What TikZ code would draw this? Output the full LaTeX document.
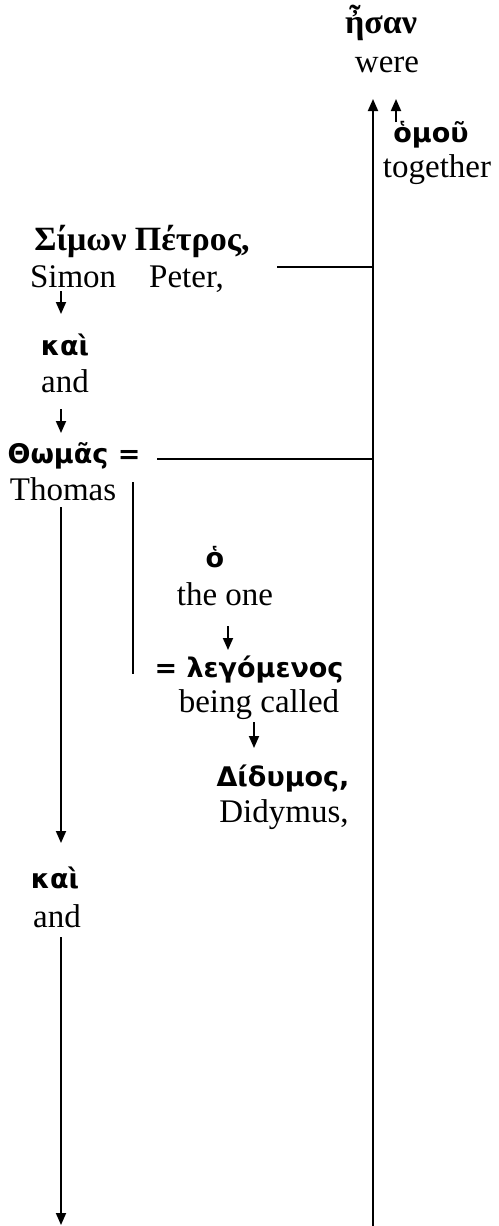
\documentclass[tikz,border=0pt]{standalone}
\usepackage{fontspec}
\setmainfont{Liberation Serif}
\newfontfamily\grs{DejaVu Sans}
\usetikzlibrary{arrows.meta}
\begin{document}
\begin{tikzpicture}[x=1pt,y=-1pt,
  en/.style={font=\fontsize{33}{40}\selectfont, inner sep=0pt, anchor=base},
  gk/.style={font=\grs\bfseries\fontsize{27}{30}\selectfont, inner sep=0pt, anchor=base},
  gs/.style={font=\bfseries\fontsize{34}{40}\selectfont, inner sep=0pt, anchor=base},
  ln/.style={line width=1.8pt},
  arr/.style={ln, -{Triangle[width=10pt,length=12pt]}}]
\useasboundingbox (0,0) rectangle (498,1226);
% words (placed by baseline)
\node[gs] (esan) at (381,33) {ἦσαν};
\node[en] (were) at (387,72) {were};
\node[gk] (homou) at (431,142) {ὁμοῦ};
\node[en] (together) at (437,177) {together};
\node[gs] (simon) at (142,250) {Σίμων Πέτρος,};
\node[en] (simonE) at (127,287) {Simon\hspace{1.0em}Peter,};
\node[gk] (kai1) at (65,355) {καὶ};
\node[en] (and1) at (65,392) {and};
\node[gk] (thomas) at (74,463) {Θωμᾶς =};
\node[en] (thomasE) at (63,500) {Thomas};
\node[gk] (ho) at (215,567) {ὁ};
\node[en] (theone) at (225,605) {the one};
\node[gk] (leg) at (249,677) {= λεγόμενος};
\node[en] (called) at (259,712) {being called};
\node[gk] (did) at (283,786) {Δίδυμος,};
\node[en] (didE) at (284,822) {Didymus,};
\node[gk] (kai2) at (55,888) {καὶ};
\node[en] (and2) at (57,927) {and};
% coordinates
\coordinate (mainB) at (373,1226);
\coordinate (mainT) at (373,99);
\coordinate (homB) at (396,122);
\coordinate (homT) at (396,99);
\coordinate (simL) at (277,267);
\coordinate (simR) at (373,267);
\coordinate (thL) at (157,459);
\coordinate (thR) at (373,459);
\coordinate (brT) at (133,482);
\coordinate (brB) at (133,674);
\coordinate (a1s) at (61,291);
\coordinate (a1e) at (61,314);
\coordinate (a2s) at (61,409);
\coordinate (a2e) at (61,433);
\coordinate (a3s) at (61,507);
\coordinate (a3e) at (61,843);
\coordinate (a4s) at (228,626);
\coordinate (a4e) at (228,650);
\coordinate (a5s) at (254,722);
\coordinate (a5e) at (254,748);
\coordinate (a6s) at (61,937);
\coordinate (a6e) at (61,1225);
% connectors
\draw[arr] (mainB) -- (mainT);
\draw[arr] (homB) -- (homT);
\draw[ln] (simL) -- (simR);
\draw[ln] (thL) -- (thR);
\draw[ln] (brT) -- (brB);
\draw[arr] (a1s) -- (a1e);
\draw[arr] (a2s) -- (a2e);
\draw[arr] (a3s) -- (a3e);
\draw[arr] (a4s) -- (a4e);
\draw[arr] (a5s) -- (a5e);
\draw[arr] (a6s) -- (a6e);
\end{tikzpicture}
\end{document}
